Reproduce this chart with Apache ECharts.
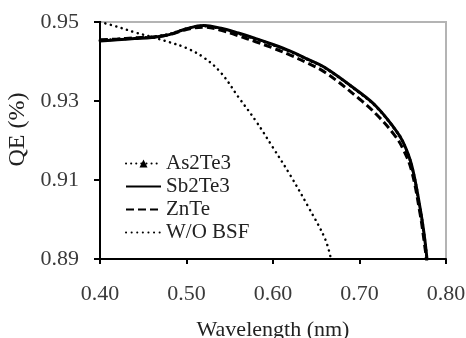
<!DOCTYPE html>
<html>
<head>
<meta charset="utf-8">
<script src="https://cdn.jsdelivr.net/npm/echarts@6/dist/echarts.min.js"></script>
<style>
  html, body { margin: 0; padding: 0; background: #fff; }
  #qeChart { width: 466px; height: 338px; }
</style>
</head>
<body>
<div id="qeChart"></div>
<script>
// wavelength grid (nm, as shown on the axis)
var wlBsf = [0.40, 0.42, 0.44, 0.46, 0.48, 0.50, 0.52, 0.54, 0.56, 0.58, 0.60, 0.62, 0.64, 0.66, 0.70, 0.72, 0.74, 0.75, 0.76, 0.77, 0.775, 0.778]
var qeAs2Te3 = [0.9453, 0.9456, 0.9459, 0.9462, 0.9469, 0.9483, 0.9490, 0.9483, 0.9471, 0.9457, 0.9442, 0.9425, 0.9405, 0.9384, 0.9321, 0.9284, 0.9231, 0.9197, 0.9138, 0.9028, 0.8955, 0.8900]
var qeSb2Te3 = [0.9452, 0.9455, 0.9458, 0.9461, 0.9468, 0.9483, 0.9491, 0.9484, 0.9472, 0.9458, 0.9443, 0.9426, 0.9406, 0.9385, 0.9322, 0.9285, 0.9232, 0.9198, 0.9140, 0.9030, 0.8958, 0.8900]
var qeZnTe = [0.9455, 0.9457, 0.9460, 0.9462, 0.9468, 0.9481, 0.9487, 0.9479, 0.9465, 0.9450, 0.9434, 0.9416, 0.9396, 0.9373, 0.9305, 0.9265, 0.9215, 0.9180, 0.9125, 0.9015, 0.8940, 0.8890]

var wlNoBsf = [0.40, 0.42, 0.44, 0.46, 0.48, 0.50, 0.52, 0.54, 0.56, 0.58, 0.60, 0.62, 0.64, 0.66, 0.667]
var qeNoBsf = [0.9500, 0.9488, 0.9474, 0.9462, 0.9449, 0.9434, 0.9410, 0.9371, 0.9310, 0.9250, 0.9182, 0.9112, 0.9035, 0.8952, 0.8900]

var xTicks = { min: 0.40, max: 0.80, step: 0.10 }
var yTicks = { min: 0.89, max: 0.95, step: 0.02 }

function pairs(xs, ys) {
  var out = []
  for (var i = 0; i < xs.length; i++) {
    out.push([xs[i], ys[i]])
  }
  return out
}

var font = '"Liberation Serif", "Times New Roman", serif'
var chart = echarts.init(document.getElementById('qeChart'))
var option = {
  animation: false,
  textStyle: { fontFamily: font },
  grid: {
    left: 100,
    right: 20,
    top: 22,
    bottom: 79,
    outerBoundsMode: 'none',
    containLabel: false,
    show: true,
    borderColor: '#b4b4b4',
    borderWidth: 2
  },
  legend: {
    orient: 'vertical',
    left: 120,
    top: 148,
    itemWidth: 35,
    itemHeight: 10,
    itemGap: 2,
    textStyle: { fontFamily: font, fontSize: 21, color: '#222' },
    data: [
      { name: 'As2Te3' },
      { name: 'Sb2Te3', itemStyle: { opacity: 0 } },
      { name: 'ZnTe', itemStyle: { opacity: 0 } },
      { name: 'W/O BSF', itemStyle: { opacity: 0 } }
    ]
  },
  xAxis: {
    type: 'value',
    min: xTicks.min,
    max: xTicks.max,
    interval: xTicks.step,
    name: 'Wavelength (nm)',
    nameLocation: 'middle',
    nameGap: 60,
    nameTextStyle: { fontFamily: font, fontSize: 22, color: '#222' },
    axisLine: { lineStyle: { color: '#000', width: 2 } },
    axisTick: { length: 5, lineStyle: { color: '#000', width: 2 } },
    axisLabel: {
      fontFamily: font, fontSize: 22, color: '#3a3a3a', margin: 24,
      formatter: function(v) { return v.toFixed(2) }
    },
    splitLine: { show: false }
  },
  yAxis: {
    type: 'value',
    min: yTicks.min,
    max: yTicks.max,
    interval: yTicks.step,
    name: 'QE (%)',
    nameLocation: 'middle',
    nameGap: 66,
    nameTextStyle: { fontFamily: font, fontSize: 24, color: '#222', padding: [0, 0, 0, 22] },
    axisLine: { lineStyle: { color: '#000', width: 2 } },
    axisTick: { length: 6, lineStyle: { color: '#000', width: 2 } },
    axisLabel: {
      fontFamily: font, fontSize: 22, color: '#3a3a3a', margin: 21,
      formatter: function(v) { return v.toFixed(2) }
    },
    splitLine: { show: false }
  },
  series: [
    {
      name: 'As2Te3',
      type: 'line',
      smooth: 0.4,
      symbol: 'triangle',
      symbolSize: 6,
      showSymbol: false,
      itemStyle: { color: '#000' },
      lineStyle: { color: '#000', width: 3, type: [0.1, 5], cap: 'round' },
      data: pairs(wlBsf, qeAs2Te3)
    },
    {
      name: 'Sb2Te3',
      type: 'line',
      smooth: 0.4,
      showSymbol: false,
      symbol: 'none',
      itemStyle: { color: '#000' },
      lineStyle: { color: '#000', width: 3 },
      data: pairs(wlBsf, qeSb2Te3)
    },
    {
      name: 'ZnTe',
      type: 'line',
      smooth: 0.4,
      showSymbol: false,
      symbol: 'none',
      itemStyle: { color: '#000' },
      lineStyle: { color: '#000', width: 3, type: [8, 4] },
      data: pairs(wlBsf, qeZnTe)
    },
    {
      name: 'W/O BSF',
      type: 'line',
      smooth: 0.4,
      showSymbol: false,
      symbol: 'none',
      itemStyle: { color: '#000' },
      lineStyle: { color: '#000', width: 2.5, type: [0.1, 5.5], cap: 'round' },
      data: pairs(wlNoBsf, qeNoBsf)
    }
  ]
}
chart.setOption(option)
window.addEventListener('resize', () => { chart.resize() })
</script>
</body>
</html>
